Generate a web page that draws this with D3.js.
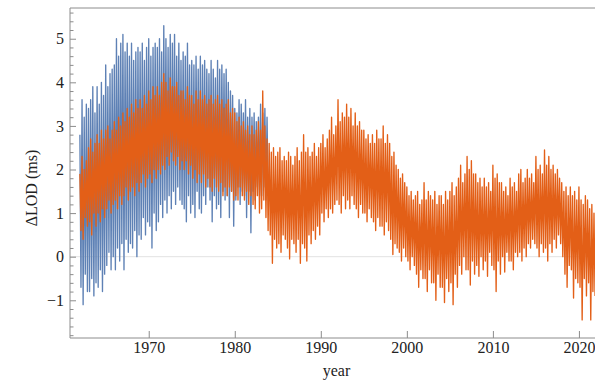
<!DOCTYPE html>
<html>
<head>
<meta charset="utf-8">
<script src="https://cdn.jsdelivr.net/npm/d3@7"></script>
<style>
  body { margin: 0; background: #fff; }
  svg { display: block; }
</style>
</head>
<body>
<div id="chart"></div>
<script>
const sampleStep = 0.125;
const blueStart = 1962.0;
const orangeStart = 1962.0;

const blueLOD = [
  /* 1962 */ 2.8, -0.7, 3.6, -1.1, 3.2, -0.4, 3.5, -0.8,
  /* 1963 */ 3.4, -0.8, 3.6, -0.5, 3.9, -0.9, 3.3, -0.6,
  /* 1964 */ 3.9, -0.7, 3.5, -0.3, 4.0, -0.8, 3.7, -0.4,
  /* 1965 */ 4.4, -0.2, 3.9, 0.1, 4.2, -0.3, 4.3, 0.0,
  /* 1966 */ 4.4, -0.3, 5.0, 0.2, 4.6, -0.1, 4.9, 0.3,
  /* 1967 */ 5.1, -0.3, 4.7, 0.4, 4.9, 0.1, 4.6, 0.3,
  /* 1968 */ 4.9, 0.2, 4.5, 0.6, 4.7, 0.0, 4.8, 0.5,
  /* 1969 */ 4.7, 0.4, 4.9, 0.9, 4.5, 0.5, 4.8, 0.8,
  /* 1970 */ 5.0, 0.7, 4.6, 0.2, 4.8, 1.0, 4.9, 0.6,
  /* 1971 */ 4.8, 0.8, 5.0, 1.2, 4.7, 0.9, 5.3, 1.3,
  /* 1972 */ 5.0, 1.0, 4.8, 1.4, 5.1, 1.1, 4.9, 1.5,
  /* 1973 */ 5.1, 1.2, 4.6, 1.6, 4.9, 1.3, 4.5, 1.2,
  /* 1974 */ 4.7, 1.1, 4.6, 0.8, 4.9, 1.4, 4.4, 1.0,
  /* 1975 */ 4.5, 1.2, 4.4, 0.9, 4.6, 1.5, 4.3, 1.1,
  /* 1976 */ 4.6, 1.0, 4.4, 1.4, 4.5, 1.2, 4.3, 1.6,
  /* 1977 */ 4.2, 1.3, 4.5, 0.8, 4.3, 1.4, 4.1, 1.1,
  /* 1978 */ 4.5, 1.2, 4.3, 0.9, 4.4, 1.5, 4.2, 1.3,
  /* 1979 */ 4.3, 1.4, 4.0, 0.9, 3.8, 1.5, 3.7, 0.7,
  /* 1980 */ 3.4, 1.3, 3.3, 1.6, 3.6, 1.2, 3.5, 1.5,
  /* 1981 */ 3.3, 1.4, 3.6, 0.9, 3.2, 1.5, 3.4, 0.55,
  /* 1982 */ 3.2, 1.5, 3.3, 1.3, 3.1, 1.6, 3.2, 1.4,
  /* 1983 */ 3.5, 1.4, 3.3, 1.6, 3.4, 1.3, 3.2, 1.5
];

const orangeLOD = [
  /* 1962 */ 1.9, 0.6, 2.3, 0.4, 2.0, 0.9, 2.2, 0.7,
  /* 1963 */ 2.5, 0.8, 2.7, 0.5, 2.4, 1.0, 2.6, 0.7,
  /* 1964 */ 2.8, 1.0, 2.6, 0.8, 2.9, 1.1, 2.7, 0.9,
  /* 1965 */ 2.9, 1.1, 3.0, 1.3, 2.7, 1.0, 2.9, 1.2,
  /* 1966 */ 3.1, 1.3, 2.9, 1.1, 3.2, 1.4, 3.0, 1.2,
  /* 1967 */ 3.3, 1.4, 3.1, 1.6, 3.4, 1.3, 3.2, 1.5,
  /* 1968 */ 3.5, 1.6, 3.3, 1.4, 3.6, 1.7, 3.4, 1.5,
  /* 1969 */ 3.6, 1.7, 3.4, 1.9, 3.7, 1.6, 3.5, 1.8,
  /* 1970 */ 3.8, 1.9, 3.6, 1.7, 3.9, 2.0, 3.7, 1.8,
  /* 1971 */ 3.9, 2.0, 3.7, 1.9, 4.0, 2.1, 4.2, 2.0,
  /* 1972 */ 4.0, 2.3, 3.8, 2.1, 4.1, 2.4, 3.9, 2.2,
  /* 1973 */ 3.9, 2.1, 4.0, 2.3, 3.7, 2.0, 3.8, 2.2,
  /* 1974 */ 3.8, 2.0, 3.6, 2.2, 3.9, 1.9, 3.7, 2.1,
  /* 1975 */ 3.7, 1.8, 3.5, 2.0, 3.8, 1.7, 3.6, 1.9,
  /* 1976 */ 3.8, 1.7, 3.6, 1.9, 3.7, 1.6, 3.5, 1.8,
  /* 1977 */ 3.6, 1.6, 3.7, 1.5, 3.5, 1.8, 3.6, 1.6,
  /* 1978 */ 3.7, 1.5, 3.5, 1.7, 3.6, 1.4, 3.4, 1.6,
  /* 1979 */ 3.5, 1.4, 3.6, 1.6, 3.3, 1.5, 3.4, 1.3,
  /* 1980 */ 3.3, 1.4, 3.1, 1.3, 3.2, 1.6, 3.0, 1.4,
  /* 1981 */ 3.1, 1.3, 2.9, 1.5, 3.0, 1.2, 2.8, 1.4,
  /* 1982 */ 3.0, 1.2, 2.8, 1.1, 2.9, 1.4, 3.1, 1.0,
  /* 1983 */ 2.9, 1.1, 3.8, 1.3, 3.0, 0.9, 2.7, 0.6,
  /* 1984 */ 2.6, 0.5, 2.4, -0.15, 2.5, 0.4, 2.3, 0.2,
  /* 1985 */ 2.4, 0.3, 2.5, 0.1, 2.2, 0.5, 2.3, 0.4,
  /* 1986 */ 2.2, 0.2, 2.4, -0.05, 2.3, 0.4, 2.1, 0.3,
  /* 1987 */ 2.3, 0.1, 2.5, 0.4, 2.2, -0.15, 2.4, 0.3,
  /* 1988 */ 2.8, 0.2, 2.4, -0.1, 2.5, 0.5, 2.3, 0.3,
  /* 1989 */ 2.4, 0.6, 2.6, 0.4, 2.3, 0.7, 2.5, 0.5,
  /* 1990 */ 2.6, 1.0, 2.8, 0.8, 2.5, 1.1, 2.7, 0.9,
  /* 1991 */ 2.9, 1.1, 3.2, 1.0, 2.8, 1.2, 3.0, 1.3,
  /* 1992 */ 3.6, 1.2, 3.1, 1.0, 3.3, 1.4, 3.2, 1.1,
  /* 1993 */ 3.5, 1.3, 3.2, 1.1, 3.4, 1.4, 3.0, 1.2,
  /* 1994 */ 3.3, 1.1, 3.0, 0.9, 3.1, 1.2, 2.9, 1.0,
  /* 1995 */ 2.9, 1.0, 2.7, 0.8, 2.8, 1.1, 2.6, 0.9,
  /* 1996 */ 2.8, 0.8, 2.6, 0.6, 2.9, 0.9, 2.7, 0.7,
  /* 1997 */ 2.7, 0.7, 3.0, 0.5, 2.6, 0.8, 2.8, 0.6,
  /* 1998 */ 2.6, 0.4, 2.3, 0.05, 2.4, 0.3, 2.1, 0.2,
  /* 1999 */ 2.0, 0.1, 1.8, -0.1, 1.9, 0.2, 1.7, 0.0,
  /* 2000 */ 1.6, -0.1, 1.4, -0.3, 1.5, 0.0, 1.3, -0.2,
  /* 2001 */ 1.4, -0.4, 1.5, -0.7, 1.2, -0.3, 1.3, -0.5,
  /* 2002 */ 1.7, -0.5, 1.3, -0.8, 1.5, -0.3, 1.4, -0.6,
  /* 2003 */ 1.3, -0.6, 1.5, -1.0, 1.2, -0.4, 1.4, -0.7,
  /* 2004 */ 1.4, -0.7, 1.2, -1.05, 1.5, -0.5, 1.3, -0.8,
  /* 2005 */ 1.5, -0.6, 1.7, -1.1, 1.4, -0.4, 1.6, -0.7,
  /* 2006 */ 1.8, -0.2, 2.1, -0.4, 1.7, 0.0, 1.9, -0.3,
  /* 2007 */ 2.3, -0.3, 2.0, -0.65, 2.2, -0.1, 1.9, -0.4,
  /* 2008 */ 1.9, -0.2, 1.7, -0.45, 1.8, 0.0, 1.6, -0.3,
  /* 2009 */ 1.8, -0.1, 1.6, -0.45, 1.7, 0.1, 1.5, -0.2,
  /* 2010 */ 2.1, -0.3, 1.8, -0.8, 1.9, -0.1, 1.7, -0.4,
  /* 2011 */ 1.7, 0.0, 1.5, -0.35, 1.6, 0.1, 1.4, -0.1,
  /* 2012 */ 1.8, -0.1, 1.6, -0.3, 1.7, 0.1, 1.5, 0.0,
  /* 2013 */ 1.9, 0.1, 2.0, -0.1, 1.7, 0.2, 1.8, 0.0,
  /* 2014 */ 2.0, 0.3, 1.8, 0.2, 1.9, 0.4, 1.7, 0.3,
  /* 2015 */ 2.3, 0.2, 2.0, 0.0, 2.1, 0.3, 1.9, 0.1,
  /* 2016 */ 2.45, 0.2, 2.1, -0.1, 2.3, 0.3, 2.0, 0.1,
  /* 2017 */ 2.1, 0.4, 1.9, 0.2, 2.0, 0.5, 1.8, 0.3,
  /* 2018 */ 1.7, 0.0, 1.5, -0.4, 1.6, -0.7, 1.4, -0.2,
  /* 2019 */ 1.6, -0.3, 1.4, -0.95, 1.5, -0.5, 1.3, -0.6,
  /* 2020 */ 1.6, -0.7, 1.3, -1.45, 1.2, -0.5, 1.4, -0.9,
  /* 2021 */ 1.3, -0.6, 1.1, -1.45, 1.2, -0.8, 1.0, -0.9
];

const decadeTicks = [1970, 1980, 1990, 2000, 2010, 2020];
const lodTicks = [-1, 0, 1, 2, 3, 4, 5];
const lodMinorTicks = d3.range(-18, 57, 2).map(d => d / 10).filter(d => !Number.isInteger(d));

const width = 595, height = 381;
const plot = {left: 70, right: 597, top: 8, bottom: 338};
const serif = "'Liberation Serif', 'Times New Roman', Times, serif";
const labelSize = '16px';

const svg = d3.select('#chart')
  .append('svg')
  .attr('width', width)
  .attr('height', height)
  .attr('font-family', serif);

const x = d3.scaleLinear().domain([1960.85, 2022.1]).range([plot.left, plot.right]);
const y = d3.scaleLinear().domain([-1.865, 5.705]).range([plot.bottom, plot.top]);

const toPoints = (start, values) => values.map((v, i) => ({year: start + i * sampleStep, lod: v}));
const blue = toPoints(blueStart, blueLOD);
const orange = toPoints(orangeStart, orangeLOD);

svg.append('clipPath').attr('id', 'clip')
  .append('rect')
  .attr('x', plot.left).attr('y', plot.top)
  .attr('width', plot.right - plot.left).attr('height', plot.bottom - plot.top);

// zero grid line
svg.append('line')
  .attr('x1', plot.left).attr('x2', plot.right)
  .attr('y1', y(0)).attr('y2', y(0))
  .attr('stroke', '#e2e2e2')
  .attr('stroke-width', 1);

const line = d3.line().x(d => x(d.year)).y(d => y(d.lod));

const series = svg.append('g').attr('clip-path', 'url(#clip)');
series.append('path')
  .datum(blue)
  .attr('d', line)
  .attr('fill', 'none')
  .attr('stroke', '#5E81B5')
  .attr('stroke-width', 1.35)
  .attr('stroke-linejoin', 'round');
series.append('path')
  .datum(orange)
  .attr('d', line)
  .attr('fill', 'none')
  .attr('stroke', '#E35F17')
  .attr('stroke-width', 1.35)
  .attr('stroke-linejoin', 'round');

// frame
const frameColor = '#8c8c8c';
svg.append('path')
  .attr('d', `M${plot.left},${plot.bottom}H${plot.right}M${plot.left},${plot.bottom}V${plot.top}H${plot.right}`)
  .attr('fill', 'none')
  .attr('stroke', frameColor)
  .attr('stroke-width', 1);

const styleAxis = g => {
  g.attr('font-family', serif).attr('font-size', labelSize);
  g.select('.domain').remove();
  g.selectAll('.tick line').attr('stroke', frameColor);
  g.selectAll('text').attr('fill', '#222');
};

svg.append('g')
  .attr('transform', `translate(0,${plot.bottom})`)
  .call(d3.axisBottom(x).tickValues(decadeTicks).tickFormat(d3.format('d')).tickSize(-7).tickSizeOuter(0).tickPadding(4))
  .call(styleAxis);

svg.append('g')
  .attr('transform', `translate(${plot.left},0)`)
  .call(d3.axisLeft(y).tickValues(lodTicks).tickSize(-6).tickSizeOuter(0).tickPadding(6))
  .call(styleAxis);

svg.append('g')
  .attr('transform', `translate(${plot.left},0)`)
  .call(d3.axisLeft(y).tickValues(lodMinorTicks).tickSize(-3.5).tickSizeOuter(0).tickFormat(''))
  .call(styleAxis);

svg.append('text')
  .attr('x', (plot.left + plot.right) / 2 + 3)
  .attr('y', 376)
  .attr('text-anchor', 'middle')
  .attr('fill', '#222')
  .attr('font-size', labelSize)
  .text('year');

svg.append('text')
  .attr('transform', `translate(37,${(plot.top + plot.bottom) / 2 + 15}) rotate(-90)`)
  .attr('text-anchor', 'middle')
  .attr('fill', '#222')
  .attr('font-size', labelSize)
  .text('ΔLOD (ms)');
</script>
</body>
</html>
